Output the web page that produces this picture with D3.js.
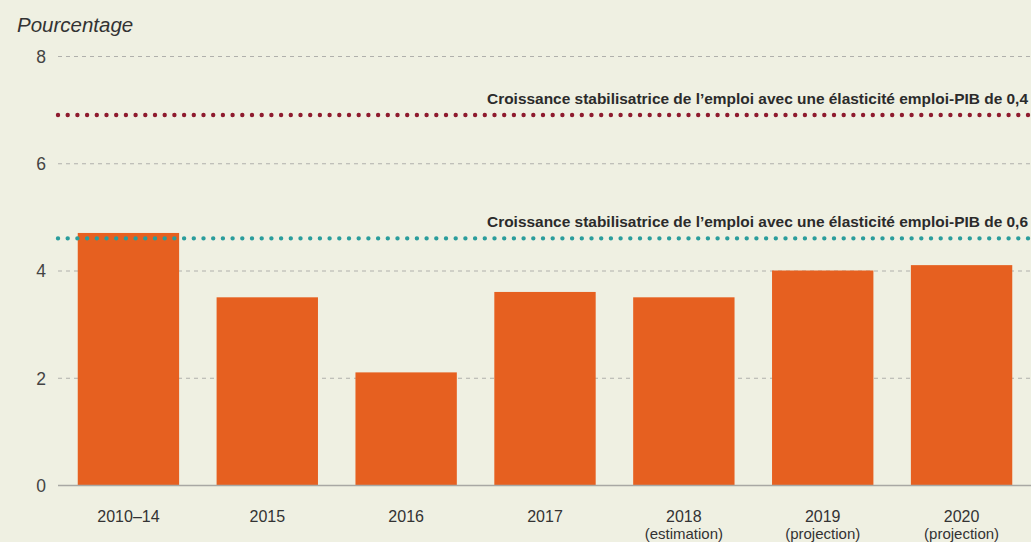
<!DOCTYPE html>
<html><head><meta charset="utf-8">
<script src="https://cdn.jsdelivr.net/npm/d3@7"></script>
<style>html,body{margin:0;padding:0;background:#eff0e2;}svg{display:block;}</style>
</head><body>
<svg id="c" width="1031" height="542"></svg>
<script>
const categories = ["2010–14","2015","2016","2017","2018","2019","2020"];
const subLabels = ["","","","","(estimation)","(projection)","(projection)"];
const values = [4.7,3.5,2.1,3.6,3.5,4.0,4.1];
const yTicks = [0,2,4,6,8];
const refValues = [6.9,4.6];
const refLabels = ["Croissance stabilisatrice de l’emploi avec une élasticité emploi-PIB de 0,4",
                   "Croissance stabilisatrice de l’emploi avec une élasticité emploi-PIB de 0,6"];
const refColors = ["#8e1b2e","#2a9d9c"];
const yTitle = "Pourcentage";

const svg = d3.select("#c");
const W = 1031, H = 542;
svg.append("rect").attr("width",W).attr("height",H).attr("fill","#eff0e2");

const x = d3.scaleBand().domain(categories).range([59,1031]).paddingInner(0.27).paddingOuter(0.135);
const y = d3.scaleLinear().domain([0,8]).range([485,56]);
const font = "'Liberation Sans', Arial, Helvetica, sans-serif";

// gridlines
svg.append("g").selectAll("line").data(yTicks.filter(d=>d>0)).join("line")
  .attr("x1",58).attr("x2",W).attr("y1",d=>y(d)+0.5).attr("y2",d=>y(d)+0.5)
  .attr("stroke","#b0b0ac").attr("stroke-width",1).attr("stroke-dasharray","4,4");

// y axis labels
const yAxis = d3.axisLeft(y).tickValues(yTicks).tickSize(0).tickPadding(0).tickFormat(d3.format("d"));
const ya = svg.append("g").attr("transform","translate(46,0)").call(yAxis);
ya.select(".domain").remove();
ya.selectAll("text").attr("font-family",font).attr("font-size",17.5).attr("fill","#444").attr("dy","0.36em");

// bars
svg.append("g").selectAll("rect").data(values).join("rect")
  .attr("x",(d,i)=>x(categories[i])).attr("width",x.bandwidth())
  .attr("y",d=>y(d)).attr("height",d=>y(0)-y(d)).attr("fill","#e66020");

// baseline
svg.append("line").attr("x1",58).attr("x2",W).attr("y1",y(0)+0.5).attr("y2",y(0)+0.5)
  .attr("stroke","#a8a8a4").attr("stroke-width",1.5);

// reference dotted lines
refValues.forEach((v,i)=>{
  svg.append("line").attr("x1",58).attr("x2",W).attr("y1",y(v)).attr("y2",y(v))
    .attr("stroke",refColors[i]).attr("stroke-width",4.4).attr("stroke-linecap","round")
    .attr("stroke-dasharray","0,9.7");
  svg.append("text").attr("x",1028).attr("y",y(v)-11).attr("text-anchor","end")
    .attr("font-family",font).attr("font-size",15).attr("font-weight","bold").attr("fill","#2b2b2b")
    .attr("textLength",541).attr("lengthAdjust","spacingAndGlyphs")
    .text(refLabels[i]);
});

// x axis labels
const xAxis = d3.axisBottom(x).tickSize(0).tickPadding(0);
const xa = svg.append("g").attr("transform","translate(0,485)").call(xAxis);
xa.select(".domain").remove();
xa.selectAll("text").attr("font-family",font).attr("font-size",16).attr("fill","#333").attr("y",37).attr("dy",0);
xa.selectAll(".tick").append("text").attr("y",54).attr("fill","#333")
  .attr("font-family",font).attr("font-size",15).attr("text-anchor","middle")
  .text((d,i)=>subLabels[i]);

// title
svg.append("text").attr("x",17).attr("y",32).attr("font-family",font).attr("font-style","italic")
  .attr("font-size",20.5).attr("fill","#333").text(yTitle);
</script>
</body></html>
